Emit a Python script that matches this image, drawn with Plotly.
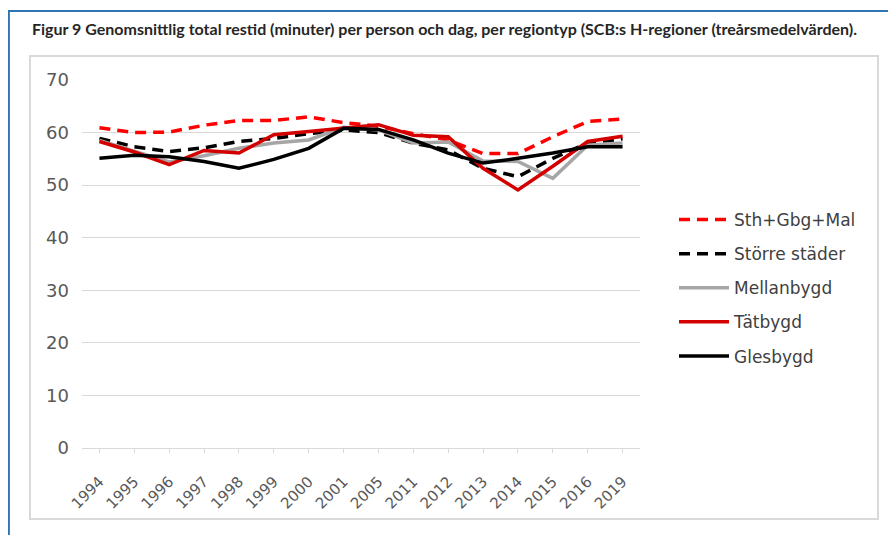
import plotly.graph_objects as go

# page body has an 8px margin; lay the figure out in page pixels minus that offset
OFF = 8
W, H = 896 - OFF, 535 - OFF

years = ["1994", "1995", "1996", "1997", "1998", "1999", "2000", "2001", "2005",
         "2011", "2012", "2013", "2014", "2015", "2016", "2019"]

sth_gbg_mal = [60.9, 60.0, 60.1, 61.4, 62.3, 62.3, 63.0, 61.9, 61.2, 59.8, 58.6, 56.0, 56.0, 59.2, 62.1, 62.6]
storre_stader = [58.9, 57.3, 56.4, 57.1, 58.3, 58.9, 59.8, 60.5, 60.0, 58.0, 56.7, 53.2, 51.6, 55.1, 58.0, 58.8]
mellanbygd = [58.5, 56.4, 54.4, 55.6, 57.0, 58.0, 58.6, 61.0, 60.5, 58.0, 58.2, 54.6, 54.5, 51.3, 57.6, 58.0]
tatbygd = [58.3, 56.3, 53.9, 56.6, 56.1, 59.6, 60.2, 60.8, 61.5, 59.5, 59.2, 53.2, 49.1, 53.6, 58.3, 59.3]
glesbygd = [55.1, 55.7, 55.4, 54.5, 53.2, 54.9, 57.0, 60.8, 60.6, 58.6, 56.1, 54.2, 55.1, 56.1, 57.3, 57.3]

title = "Figur 9 Genomsnittlig total restid (minuter) per person och dag, per regiontyp (SCB:s H-regioner (treårsmedelvärden)."

series = [
    ("Sth+Gbg+Mal", sth_gbg_mal, "#ff0000", "dash"),
    ("Större städer", storre_stader, "#000000", "dash"),
    ("Mellanbygd", mellanbygd, "#a6a6a6", "solid"),
    ("Tätbygd", tatbygd, "#d40000", "solid"),
    ("Glesbygd", glesbygd, "#000000", "solid"),
]

fig = go.Figure()
for i, (name, vals, col, dash) in enumerate(series):
    fig.add_trace(go.Scatter(
        x=years, y=vals, name=name, mode="lines",
        line=dict(color=col, width=3.5, dash=dash if dash == "solid" else "11px,7px"),
        legendgroup=f"g{i}",
    ))

def px_x(px):
    return (px - OFF) / W

def px_y(py):
    return 1 - (py - OFF) / H

fig.update_layout(
    template="none",
    width=W, height=H, autosize=False,
    margin=dict(l=0, r=0, t=0, b=0, pad=0),
    paper_bgcolor="white", plot_bgcolor="white",
    font=dict(family="DejaVu Sans, Arial, sans-serif", color="#595959"),
    xaxis=dict(
        domain=[px_x(82), px_x(640)], automargin=False,
        type="category", tickson="labels", range=[-0.5, len(years) - 0.5],
        showgrid=False, showline=True, linecolor="#d9d9d9", linewidth=1,
        ticks="outside", ticklen=4, tickcolor="#d9d9d9",
        tickangle=-45, tickfont=dict(size=15, color="#595959"),
        ticklabelstandoff=14,
        zeroline=False, fixedrange=True,
    ),
    yaxis=dict(
        domain=[px_y(448), px_y(80)], automargin=False,
        range=[0, 70], dtick=10, tick0=0,
        showgrid=True, gridcolor="#d9d9d9", gridwidth=1,
        zeroline=False, showline=False, ticks="",
        tickfont=dict(size=18, color="#595959"),
        ticklabelstandoff=12,
    ),
    legend=dict(
        x=px_x(674), y=px_y(202), xanchor="left", yanchor="top",
        font=dict(size=17, color="#404040"),
        tracegroupgap=9, bgcolor="rgba(0,0,0,0)",
        itemwidth=50,
    ),
    showlegend=True,
)

shapes = [
    dict(type="line", xref="paper", yref="paper", x0=0.001, x1=0.001, y0=px_y(11), y1=0,
         line=dict(color="#2e75b6", width=2)),
    dict(type="line", xref="paper", yref="paper", x0=0, x1=1, y0=px_y(11), y1=px_y(11),
         line=dict(color="#2e75b6", width=2)),
    dict(type="rect", xref="paper", yref="paper", x0=px_x(30), x1=px_x(878), y0=px_y(519), y1=px_y(56),
         line=dict(color="#d9d9d9", width=2), layer="below"),
]
fig.update_layout(shapes=shapes)

fig.add_annotation(
    text=f"<b>{title}</b>", xref="paper", yref="paper",
    x=px_x(30), y=px_y(28), xanchor="left", yanchor="middle", showarrow=False,
    font=dict(family="Lato, Open Sans, sans-serif", size=16, color="#262626"),
)

fig.write_html("out.html")
